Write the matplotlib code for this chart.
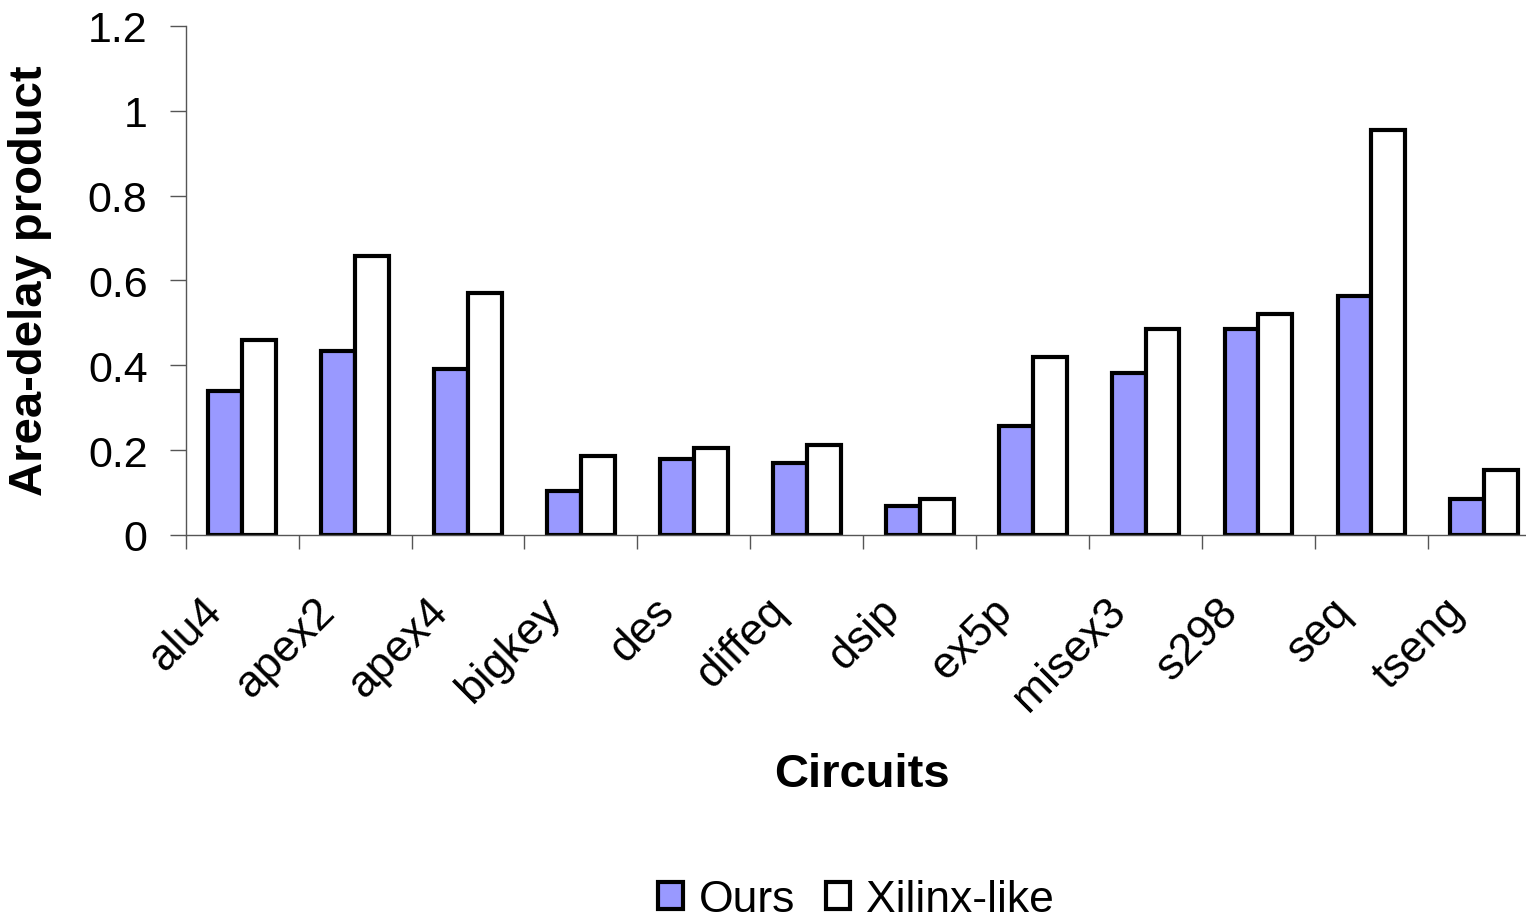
import numpy as np
import matplotlib
matplotlib.use("Agg")
import matplotlib.pyplot as plt
import matplotlib.transforms as mtransforms

plt.rcParams['font.family'] = ['Liberation Sans', 'DejaVu Sans']

# data
circuits = ["alu4", "apex2", "apex4", "bigkey", "des", "diffeq",
            "dsip", "ex5p", "misex3", "s298", "seq", "tseng"]
ours = [0.340, 0.434, 0.392, 0.103, 0.179, 0.169,
        0.069, 0.257, 0.383, 0.485, 0.563, 0.086]
xilinx_like = [0.460, 0.657, 0.570, 0.187, 0.205, 0.213,
               0.086, 0.419, 0.485, 0.520, 0.954, 0.154]
y_ticks = [0, 0.2, 0.4, 0.6, 0.8, 1.0, 1.2]
y_tick_labels = ["0", "0.2", "0.4", "0.6", "0.8", "1", "1.2"]

fig = plt.figure(figsize=(15.26, 9.2), dpi=100)
ax = fig.add_axes([0.1217, 0.4174, 0.888, 0.5533])

x = np.arange(len(circuits)) + 0.5
w = 0.3
ax.bar(x - w / 2, ours, width=w, color="#9999FF", edgecolor="black",
       linewidth=3, label="Ours")
ax.bar(x + w / 2, xilinx_like, width=w, color="white", edgecolor="black",
       linewidth=3, label="Xilinx-like")

ax.set_xlim(0, len(circuits))
ax.set_ylim(0, 1.2)

# axes look (Excel style)
for s in ["top", "right"]:
    ax.spines[s].set_visible(False)
for s in ["left", "bottom"]:
    ax.spines[s].set_color("#555555")
    ax.spines[s].set_linewidth(1.0)

ax.set_yticks(y_ticks)
ax.set_yticklabels(y_tick_labels)
ax.tick_params(axis="y", direction="out", length=11.5, width=1, color="#555555",
               pad=16, labelsize=31)

# category ticks between groups, labels at centres
ax.set_xticks(np.arange(len(circuits) + 1), minor=True)
ax.set_xticks(x)
ax.set_xticklabels(circuits, rotation=45, ha="right", va="center",
                   rotation_mode="anchor", fontsize=32)
ax.tick_params(axis="x", which="major", length=0, pad=50)
ax.tick_params(axis="x", which="minor", direction="out", length=10, width=1,
               color="#555555")
offset = mtransforms.ScaledTranslation(-19 / 72, 0, fig.dpi_scale_trans)
for lbl in ax.get_xticklabels():
    lbl.set_transform(lbl.get_transform() + offset)

fig.text(0.0197, 0.6946, "Area-delay product", rotation=90, ha="center",
         va="center", fontsize=34, fontweight="bold")
fig.text(0.565, 0.158, "Circuits", ha="center", va="center",
         fontsize=34, fontweight="bold")

fig.legend(loc="center", bbox_to_anchor=(0.561, 0.021), ncol=2, frameon=False,
           fontsize=32, handlelength=0.55, handleheight=0.55, handletextpad=0.35,
           columnspacing=0.7, borderaxespad=0)

fig.savefig("out.png", dpi=100)
